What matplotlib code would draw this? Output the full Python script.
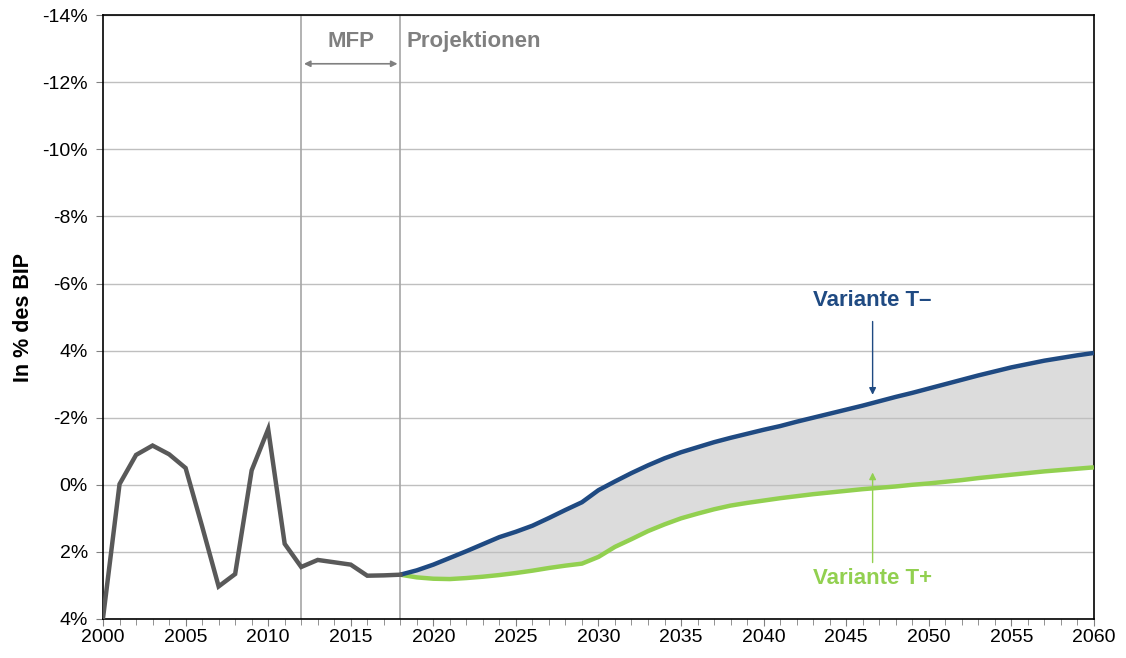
import numpy as np
import matplotlib
matplotlib.use("Agg")
import matplotlib.pyplot as plt

plt.rcParams['font.family'] = ['Liberation Sans', 'DejaVu Sans']

# historical balance (positive = downwards on the inverted axis)
hist_years = list(range(2000, 2019))
hist_vals = [3.97, -0.02, -0.89, -1.17, -0.91, -0.50, 1.24, 3.03, 2.66, -0.43,
             -1.66, 1.76, 2.45, 2.24, 2.31, 2.38, 2.71, 2.70, 2.68]

proj_years = list(range(2018, 2061))
t_minus = [2.68, 2.55, 2.38, 2.18, 1.98, 1.77, 1.56, 1.40, 1.22, 0.99,
           0.75, 0.52, 0.16, -0.10, -0.35, -0.58, -0.79, -0.97, -1.12, -1.27,
           -1.40, -1.52, -1.64, -1.75, -1.88, -2.00, -2.12, -2.24, -2.36, -2.49,
           -2.62, -2.74, -2.87, -3.00, -3.13, -3.26, -3.38, -3.50, -3.60, -3.70,
           -3.78, -3.86, -3.93]
t_plus = [2.68, 2.76, 2.80, 2.81, 2.78, 2.74, 2.69, 2.63, 2.56, 2.48,
          2.41, 2.35, 2.15, 1.85, 1.62, 1.38, 1.18, 1.00, 0.86, 0.73,
          0.62, 0.54, 0.47, 0.40, 0.34, 0.28, 0.23, 0.18, 0.13, 0.09,
          0.05, 0.00, -0.04, -0.09, -0.14, -0.20, -0.25, -0.30, -0.35, -0.40,
          -0.44, -0.48, -0.52]

y_ticks = [-14, -12, -10, -8, -6, -4, -2, 0, 2, 4]
y_labels = ["-14%", "-12%", "-10%", "-8%", "-6%", "4%", "-2%", "0%", "2%", "4%"]
x_ticks = list(range(2000, 2061, 5))

blue = "#1F4A82"
green = "#92D050"
grey_txt = "#808080"

fig = plt.figure(figsize=(11.26, 6.58), dpi=100)
ax = fig.add_axes([0.0915, 0.0593, 0.88, 0.9177])

ax.fill_between(proj_years, t_minus, t_plus, color="#DCDCDC", zorder=1)
ax.plot(proj_years, t_plus, color=green, lw=3.2, zorder=3, solid_capstyle="butt")
ax.plot(proj_years, t_minus, color=blue, lw=3.2, zorder=3, solid_capstyle="butt")
ax.plot(hist_years, hist_vals, color="#595959", lw=3.2, zorder=4, solid_joinstyle="miter")

ax.set_xlim(2000, 2060)
ax.set_ylim(4, -14)
ax.set_yticks(y_ticks)
ax.set_yticklabels(y_labels)
ax.set_xticks(x_ticks)
ax.set_xticks(range(2000, 2061), minor=True)
ax.grid(axis="y", color="#BFBFBF", lw=1, zorder=0)
ax.tick_params(axis="both", labelsize=14, length=5, color="#808080")
ax.tick_params(axis="x", which="minor", length=4, color="#808080")
ax.tick_params(axis="x", pad=2)
ax.tick_params(axis="y", pad=6)
for s in ax.spines.values():
    s.set_color("black")
    s.set_linewidth(1.2)

for yr in (2012, 2018):
    ax.axvline(yr, color="#A6A6A6", lw=1.2, zorder=2)

ax.set_ylabel("In % des BIP", fontsize=15.5, fontweight="bold", labelpad=6)

ax.text(2015, -13.2, "MFP", color=grey_txt, fontsize=16, fontweight="bold", ha="center", va="center")
ax.annotate("", xy=(2012, -12.55), xytext=(2018, -12.55),
            arrowprops=dict(arrowstyle="<|-|>", color=grey_txt, lw=1.2, mutation_scale=9))
ax.text(2018.35, -13.2, "Projektionen", color=grey_txt, fontsize=16, fontweight="bold", ha="left", va="center")

ax.text(2046.6, -5.5, "Variante T\u2013", color=blue, fontsize=16, fontweight="bold", ha="center", va="center")
ax.annotate("", xy=(2046.6, -2.6), xytext=(2046.6, -4.95),
            arrowprops=dict(arrowstyle="-|>", color=blue, lw=1, mutation_scale=10))
ax.text(2046.6, 2.8, "Variante T+", color=green, fontsize=16, fontweight="bold", ha="center", va="center")
ax.annotate("", xy=(2046.6, -0.45), xytext=(2046.6, 2.4),
            arrowprops=dict(arrowstyle="-|>", color=green, lw=1, mutation_scale=10))

fig.savefig("out.png", dpi=100)
